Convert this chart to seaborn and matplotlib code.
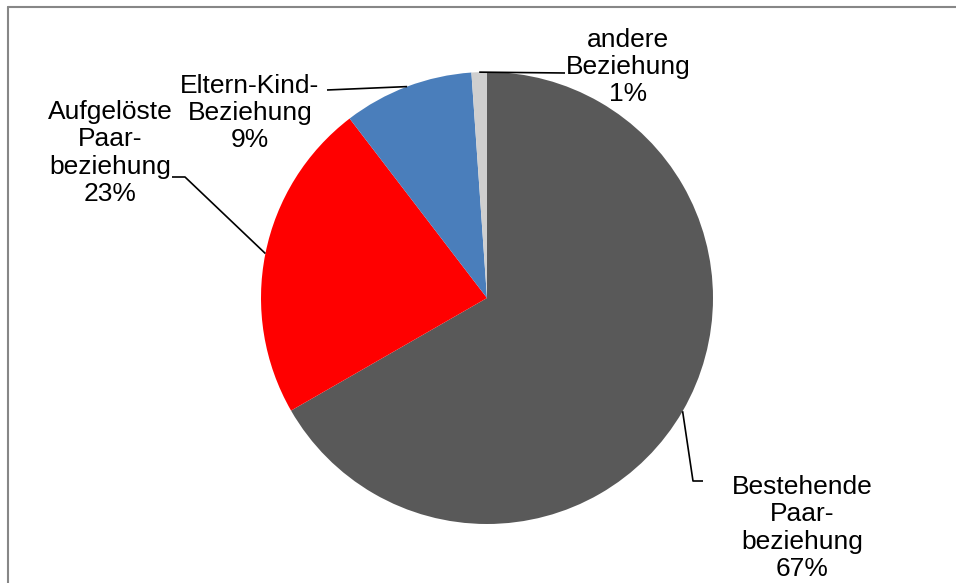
import numpy as np
import matplotlib
matplotlib.use('Agg')
import matplotlib.pyplot as plt
import seaborn as sns

# Daten
kategorien = ['Bestehende\nPaar-\nbeziehung', 'Aufgelöste\nPaar-\nbeziehung',
              'Eltern-Kind-\nBeziehung', 'andere\nBeziehung']
anteile = [66.7, 22.9, 9.3, 1.1]
prozent_text = ['67%', '23%', '9%', '1%']
farben = ['#595959', '#FF0000', '#4A7EBB', '#CFCFCF']

# Layout der Beschriftungen (Pixel, y von oben)
text_pos = [(802, 528), (110, 153), (250, 113), (628, 67)]
knick_pos = [[(693, 481), (703, 481)],
             [(185, 177), (172, 177)],
             [(327, 90)],
             [(565, 73)]]

W, H = 956, 583
sns.set_theme(style='white')
plt.rcParams['font.family'] = ['Liberation Sans', 'DejaVu Sans']

fig = plt.figure(figsize=(W / 100, H / 100), dpi=100)
ax = fig.add_axes([0, 0, 1, 1])

cx, cy, r = 487, H - 298, 226
wedges, _ = ax.pie(anteile, colors=farben, startangle=90, counterclock=False,
                   center=(cx, cy), radius=r, frame=True,
                   wedgeprops=dict(linewidth=0))
ax.set_xlim(0, W)
ax.set_ylim(0, H)
ax.set_aspect('equal')
ax.axis('off')

for w, lab, pct, (tx, ty), knick in zip(wedges, kategorien, prozent_text, text_pos, knick_pos):
    mitte = np.deg2rad((w.theta1 + w.theta2) / 2)
    ax0 = cx + r * np.cos(mitte)
    ay0 = cy + r * np.sin(mitte)
    xs = [ax0] + [p[0] for p in knick]
    ys = [ay0] + [H - p[1] for p in knick]
    ax.plot(xs, ys, color='black', linewidth=1.2, solid_capstyle='butt')
    ax.text(tx, H - ty, f'{lab}\n{pct}', ha='center', va='center',
            fontsize=19, linespacing=1.17, color='black')

# Rahmen (oben und links sichtbar)
ax.plot([8, W], [H - 7, H - 7], color='#878787', linewidth=1.5, clip_on=False)
ax.plot([8, 8], [H - 7, 0], color='#878787', linewidth=1.5, clip_on=False)

fig.savefig('out.png', dpi=100)
